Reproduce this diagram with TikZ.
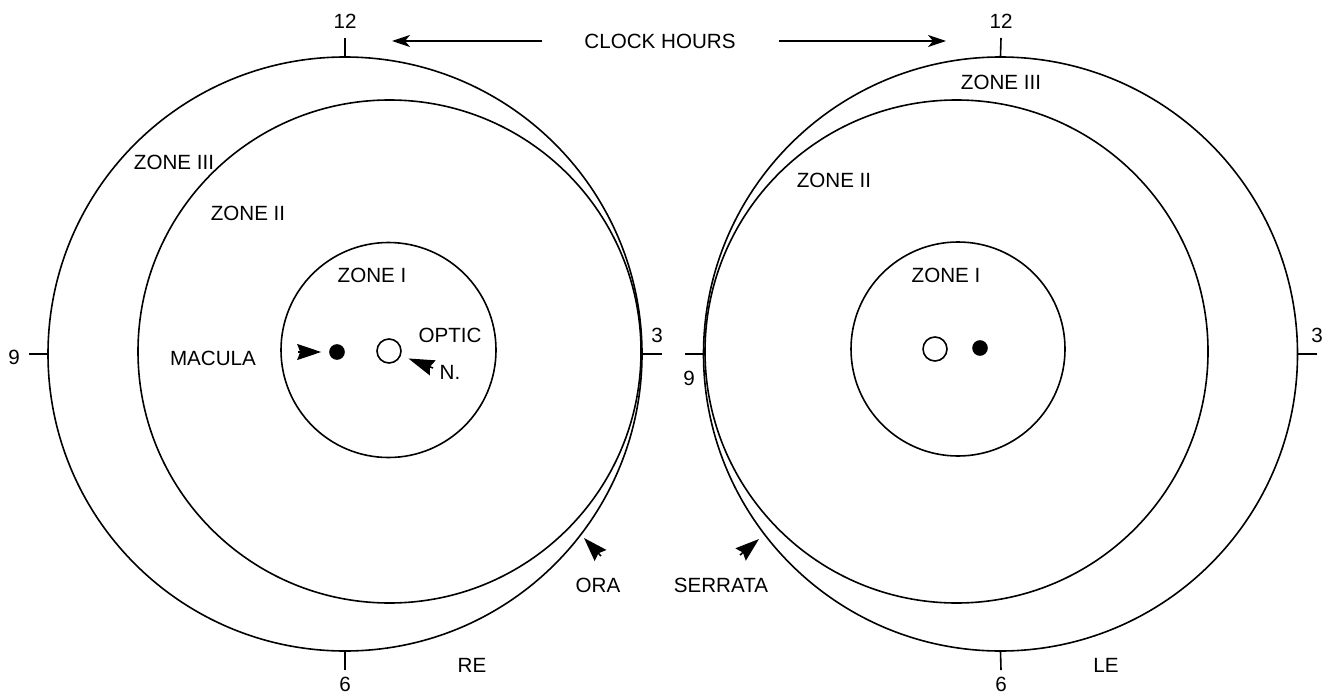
\documentclass[tikz,border=0pt]{standalone}
\usepackage{fontspec}
\setmainfont{Liberation Sans}
\usetikzlibrary{arrows.meta}

\begin{document}
\begin{tikzpicture}[x=0.5pt,y=-0.5pt,line width=0.8pt,
  font=\fontsize{10.3}{12}\selectfont,
  ring/.style={shape=circle,draw=black,inner sep=0pt},
  pointer/.style={-{Stealth[length=12pt,width=8pt,inset=1.5pt]}},
  clock/.style={-{Stealth[length=9pt,width=6pt,inset=2.5pt]}}]
\useasboundingbox (0,0) rectangle (1326,695);
% RE
\node[ring,minimum size=297pt] (r3) at (345,354) {};
\node[ring,minimum size=251.5pt] (r2) at (389.5,351.5) {};
\node[ring,minimum size=107.5pt] (r1) at (388.5,350) {};
\node[ring,minimum size=12pt] (rd) at (389,351) {};
\node[ring,fill=black,minimum size=7pt] (rm) at (337,352) {};
\coordinate (rt12) at (345,38);
\coordinate (rt9) at (29,354);
\coordinate (rt3) at (662,354);
\coordinate (rt6) at (345,670);
\draw (r3.north) -- (rt12);
\draw (r3.west) -- (rt9);
\draw (r3.east) -- (rt3);
\draw (r3.south) -- (rt6);
\node (rn12) at (345,21) {12};
\node (rn9) at (14,357) {9};
\node (rn3) at (657,335) {3};
\node (rn6) at (345,684) {6};
\node (rz3) at (174,162) {ZONE III};
\node (rz2) at (248,213) {ZONE II};
\node (rz1) at (372,275) {ZONE I};
\node (rmac) at (213,358) {MACULA};
\node (ropt) at (450,335) {OPTIC};
\node (rn) at (450,372) {N.};
\node (rora) at (598,585) {ORA};
\node (re) at (472,665) {RE};
\coordinate (rma) at (298,352);
\coordinate (rna) at (433,368);
\coordinate (roa) at (601,556);
\coordinate (rob) at (584,538);
\draw[pointer,shorten >=4pt] (rma) -- (rm);
\draw[-{Stealth[length=13pt,width=8pt,inset=1.5pt]},shorten >=4pt] (rna) -- (rd);
\draw[pointer] (roa) -- (rob);
% LE
\node[ring,minimum size=297pt] (l3) at (1000.5,354) {};
\node[ring,minimum size=251.5pt] (l2) at (956.5,351.5) {};
\node[ring,minimum size=107pt] (l1) at (958,349) {};
\node[ring,minimum size=12pt] (ld) at (935,349) {};
\node[ring,fill=black,minimum size=7pt] (lm) at (980,348) {};
\coordinate (lt12) at (1001,38);
\coordinate (lt9) at (685,354);
\coordinate (lt3) at (1317,354);
\coordinate (lt6) at (1001,670);
\draw (l3.north) -- (lt12);
\draw (l3.west) -- (lt9);
\draw (l3.east) -- (lt3);
\draw (l3.south) -- (lt6);
\node (ln12) at (1001,21) {12};
\node (ln9) at (689,378) {9};
\node (ln3) at (1317,335) {3};
\node (ln6) at (1001,684) {6};
\node (lz3) at (1001,82) {ZONE III};
\node (lz2) at (834,180) {ZONE II};
\node (lz1) at (946,275) {ZONE I};
\node (lser) at (721,585) {SERRATA};
\node (le) at (1106,665) {LE};
\coordinate (lsa) at (740,555);
\coordinate (lsb) at (759,539);
\draw[pointer] (lsa) -- (lsb);
% clock hours
\node (hrs) at (660,41) {CLOCK HOURS};
\coordinate (ha) at (542,41);
\coordinate (hb) at (392,41);
\coordinate (hc) at (779,41);
\coordinate (hd) at (946,41);
\draw[clock] (ha) -- (hb);
\draw[clock] (hc) -- (hd);
\end{tikzpicture}
\end{document}
